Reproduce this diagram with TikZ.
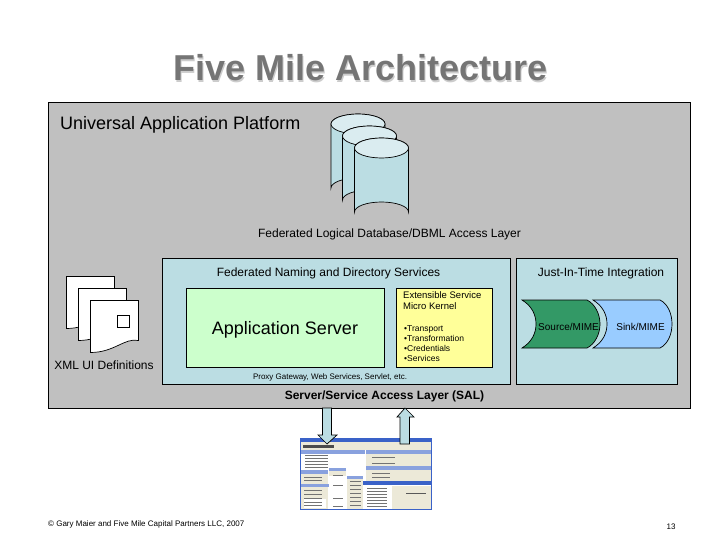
\documentclass[tikz,border=0pt]{standalone}
\usepackage{fontspec}
\setmainfont{Liberation Sans}
\definecolor{panel}{HTML}{C0C0C0}
\definecolor{paleblue}{HTML}{BBDDE3}
\definecolor{palegreen}{HTML}{CCFFCC}
\definecolor{paleyellow}{HTML}{FFFF99}
\definecolor{sourcegreen}{HTML}{339966}
\definecolor{sinkblue}{HTML}{99CCFF}
\definecolor{titlegrey}{HTML}{757575}
\definecolor{winblue}{HTML}{3A62C8}
\definecolor{winpane}{HTML}{ECE9D8}
\newcommand{\pxfont}[1]{\fontsize{#1}{#1}\selectfont}
\newcommand{\dbdrum}[2]{% left x, top y
  \draw[thick line,fill=paleblue] (#1,#2) -- (#1,#2+64) arc[start angle=180,end angle=360,x radius=27,y radius=10] -- (#1+54,#2)
    arc[start angle=0,end angle=-180,x radius=27,y radius=10] -- cycle;
  \draw[thick line,fill=paleblue!55!white] (#1+27,#2) ellipse[x radius=27,y radius=10];
}
\newcommand{\uipage}[2]{% left x, top y
  \draw[thick line,fill=white] (#1,#2) -- (#1+48,#2) -- (#1+48,#2+40)
    .. controls (#1+34,#2+37) and (#1+24,#2+52) .. (#1,#2+52) -- cycle;
}
\begin{document}
\begin{tikzpicture}[x=1pt,y=-1pt,
  thick line/.style={draw=black,line width=0.7pt},
  box/.style={draw=black,line width=0.7pt,anchor=north west,inner sep=0pt,outer sep=0pt},
  txt/.style={inner sep=0pt,text=black},
  bigarrow/.style={draw=black,line width=0.7pt,fill=paleblue},
  gui text/.style={black!55,line width=0.7pt}]
\useasboundingbox (0,0) rectangle (720,540);
\fill[white] (0,0) rectangle (720,540);

% title with its soft shadow
\node[txt,text=white!80!black] (titleshadow) at (361.5,69.5) {\pxfont{36}\bfseries Five Mile Architecture};
\node[txt,text=titlegrey] (title) at (360.5,68) {\pxfont{36}\bfseries Five Mile Architecture};

% main panel
\node[box,fill=panel,minimum width=642.5pt,minimum height=306pt] (platform) at (48,102) {};
\node[txt,anchor=west] (platformlabel) at (60,125) {\pxfont{18}Universal Application Platform};

% database drums
\dbdrum{331}{124}
\dbdrum{342.5}{136}
\dbdrum{354.5}{148}
\node[txt] (dblabel) at (389.5,234.5) {\pxfont{12}Federated Logical Database/DBML Access Layer};

% inner panels
\node[box,fill=paleblue,minimum width=348pt,minimum height=125.5pt] (naming) at (162,258.5) {};
\node[box,fill=paleblue,minimum width=161pt,minimum height=125.5pt] (jit) at (516,258.5) {};
\node[txt] (naminglabel) at (328.5,273.5) {\pxfont{12}Federated Naming and Directory Services};
\node[txt] (jitlabel) at (601,273.5) {\pxfont{12}Just-In-Time Integration};
\node[box,fill=palegreen,minimum width=198pt,minimum height=78.5pt] (appserver) at (186.5,288.5) {};
\node[txt] (appserverlabel) at (285,329.5) {\pxfont{18}Application Server};
\node[box,fill=paleyellow,minimum width=96pt,minimum height=78.5pt] (kernel) at (396.5,288.5) {};
\node[txt,anchor=north west,align=left,font=\fontsize{9.5}{11}\selectfont] (kerneltitle) at (403,291.5) {Extensible Service\\Micro Kernel};
\node[txt,anchor=north west,align=left,font=\fontsize{8.5}{10}\selectfont] (kernellist) at (404,325) {•Transport\\•Transformation\\•Credentials\\•Services};
\node[txt] (proxylabel) at (330,377.5) {\pxfont{8}Proxy Gateway, Web Services, Servlet, etc.};
\node[txt] (sallabel) at (384.5,396) {\pxfont{12}\bfseries Server/Service Access Layer (SAL)};

% streams
\draw[thick line,fill=sinkblue] (593,300) -- (660,300) .. controls (668,304) and (672,314) .. (672,324)
  .. controls (672,334) and (668,344) .. (660,348) -- (593,348)
  .. controls (603,342) and (607,333) .. (607,324) .. controls (607,315) and (603,306) .. (593,300) -- cycle;
\draw[thick line,fill=sourcegreen] (522,300) -- (587,300) .. controls (595,304) and (600,314) .. (600,324)
  .. controls (600,334) and (595,344) .. (587,348) -- (522,348)
  .. controls (532,342) and (536,333) .. (536,324) .. controls (536,315) and (532,306) .. (522,300) -- cycle;
\node[txt] (sourcelabel) at (568.5,326.5) {\pxfont{10}Source/MIME};
\node[txt] (sinklabel) at (640.5,326.5) {\pxfont{10}Sink/MIME};

% UI definition pages
\uipage{66.5}{276.5}
\uipage{78.5}{288.5}
\uipage{90.5}{300.5}
\draw[thick line,fill=white] (117.5,315.5) rectangle (129.5,327);
\node[txt] (xmllabel) at (104,365.5) {\pxfont{12}XML UI Definitions};

% screenshot
\fill[white] (300,438) rectangle (432,510);
\fill[winblue] (300,438) rectangle (432,441.5);
\fill[winpane] (301,442) rectangle (431,450);
\fill[black!70] (303,445) rectangle (334,448);
\fill[winblue!60] (301,450) rectangle (365,454);
\fill[winblue!60] (366,450) rectangle (431,454);
\fill[winpane] (366,454) rectangle (431,467);
\fill[winblue!60] (366,466) rectangle (431,470);
\fill[winpane] (366,470) rectangle (431,481);
\fill[winpane] (301,472) rectangle (328,510);
\fill[winblue!60] (301,470) rectangle (328,474);
\fill[white] (329,468) rectangle (346,510);
\fill[winpane] (329,471) rectangle (346,476);
\fill[winblue!60] (329,468) rectangle (346,471);
\fill[winblue!60] (301,484) rectangle (329,487);
\fill[winpane] (347,476) rectangle (363,510);
\fill[winblue!60] (347,476) rectangle (363,479);
\fill[white] (304,499) rectangle (326,508);
\fill[white] (333,478) rectangle (345,482);
\fill[winblue] (363,481) rectangle (431,485);
\fill[winpane] (392,486) rectangle (431,510);
\foreach \y in {455,458,461,464,467}{\draw[gui text] (305,\y) -- (328,\y);}
\foreach \y in {457,463}{\draw[gui text] (372,\y) -- (395,\y);}
\foreach \y in {473,477}{\draw[gui text] (372,\y) -- (390,\y);}
\foreach \y in {488,491,494,497,500,503,506}{\draw[gui text] (367,\y) -- (387,\y);}
\foreach \y in {477,480,490,494,498,502,505}{\draw[gui text] (304,\y) -- (322,\y);}
\foreach \y in {475,485,498,506}{\draw[gui text] (333,\y) -- (343,\y);}
\foreach \y in {481,485,489,493,497,501,505}{\draw[gui text] (350,\y) -- (361,\y);}
\draw[black!65,line width=1pt] (406,493) -- (426,493);
\draw[winblue,line width=0.6pt] (300.5,438.5) rectangle (431.5,509.5);

% access arrows
\draw[bigarrow] (322.5,408) -- (331.5,408) -- (331.5,435) -- (337,435) -- (327,444) -- (318,435) -- (322.5,435) -- cycle;
\draw[bigarrow] (400,444) -- (409.5,444) -- (409.5,417) -- (414,417) -- (405,408) -- (397,417) -- (400,417) -- cycle;

% footer
\node[txt,anchor=west] (copyright) at (48,524) {\pxfont{8}© Gary Maier and Five Mile Capital Partners LLC, 2007};
\node[txt] (pagenum) at (671,527) {\pxfont{8}13};
\end{tikzpicture}
\end{document}
